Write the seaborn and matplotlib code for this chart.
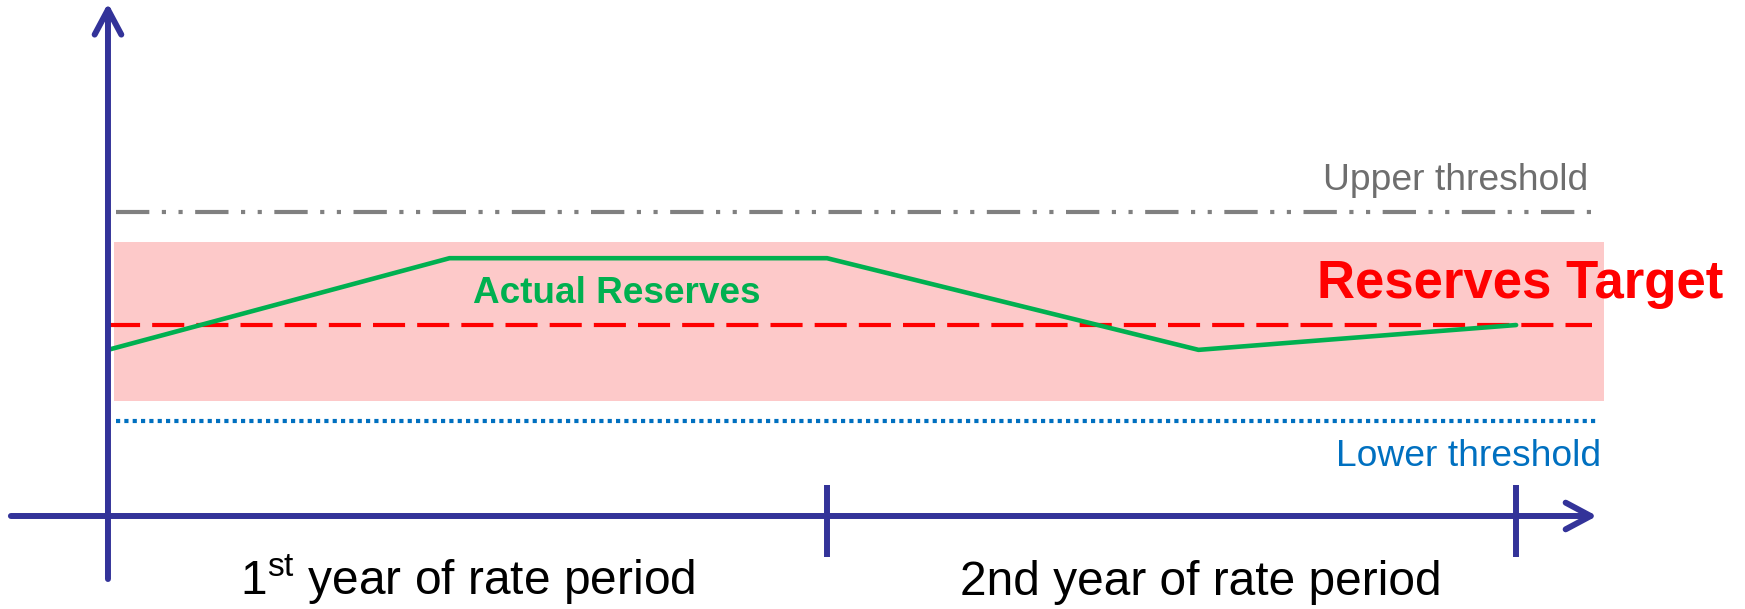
import matplotlib
matplotlib.use("Agg")
import matplotlib.pyplot as plt
import seaborn as sns
import pandas as pd

# ---- data (schematic units: x in months, y in reserve index, target = 100) ----
months = [0, 5.7, 12, 18.2, 23.5]
actual_reserves = [87, 135, 135, 87, 100]
upper_threshold = 159
reserves_target = 100
lower_threshold = 50
target_band = [60, 143.5]
year_ends = [12, 23.5]
period_labels = [r"1$^{\rm st}$ year of rate period", "2nd year of rate period"]
period_centers = [6.0, 18.24]

sns.set_theme(style="white")
plt.rcParams["font.family"] = ["Liberation Sans", "DejaVu Sans"]
plt.rcParams["mathtext.fontset"] = "custom"
plt.rcParams["mathtext.rm"] = "Liberation Sans"
plt.rcParams["mathtext.it"] = "Liberation Sans:italic"
plt.rcParams["mathtext.bf"] = "Liberation Sans:bold"

fig = plt.figure(figsize=(17.45, 6.09), dpi=100)
ax = fig.add_axes([0, 0, 1, 1])
ax.set_xlim(-1.802, 27.32)
ax.set_ylim(-48.7, 270.2)
ax.axis("off")

AXC = "#333399"

# target band
ax.fill_between([0.1, 24.97], target_band[0], target_band[1], color="#FDC9C9", lw=0, zorder=1)

# thresholds
ax.plot([0.13, 24.77], [upper_threshold] * 2, color="#808080", lw=3.0,
        linestyle=(0, (8, 3, 1, 3, 1, 3)), dash_capstyle="butt", zorder=2)
ax.plot([0.0, 24.77], [reserves_target] * 2, color="#FF0000", lw=3.0,
        linestyle=(0, (7.7, 2.9)), dash_capstyle="butt", zorder=2)
ax.plot([0.13, 24.88], [lower_threshold] * 2, color="#0070C0", lw=3.0,
        linestyle=(0, (1, 1)), dash_capstyle="butt", zorder=2)

# actual reserves
df = pd.DataFrame({"month": months, "reserves": actual_reserves})
sns.lineplot(data=df, x="month", y="reserves", ax=ax, color="#00B050", lw=3.3,
             sort=False, zorder=4)

# axes arrows
arrow_kw = dict(arrowstyle="->, head_length=0.9, head_width=0.48", color=AXC, lw=4.3,
                mutation_scale=20, capstyle="round", shrinkA=0, shrinkB=0)
ax.annotate("", xy=(24.85, 0), xytext=(-1.62, 0), arrowprops=arrow_kw, zorder=5)
ax.annotate("", xy=(0, 268.5), xytext=(0, -33), arrowprops=arrow_kw, zorder=5)
for xe in year_ends:
    ax.plot([xe, xe], [16.2, -21.5], color=AXC, lw=4.3, solid_capstyle="butt", zorder=5)

# labels
ax.text(24.7, 170.7, "Upper threshold", ha="right", va="baseline", fontsize=26.8, color="#6E6E6E")
ax.text(24.92, 26.2, "Lower threshold", ha="right", va="baseline", fontsize=26.8, color="#0070C0")
ax.text(26.95, 114.1, "Reserves Target", ha="right", va="baseline", fontsize=38,
        fontweight="bold", color="#FF0000", zorder=6)
ax.text(6.09, 111.5, "Actual Reserves", ha="left", va="baseline", fontsize=26.6,
        fontweight="bold", color="#00B050", zorder=6)
for lab, xc in zip(period_labels, period_centers):
    ax.text(xc, -41.4, lab, ha="center", va="baseline", fontsize=34.5, color="black")

fig.savefig("out.png", dpi=100, facecolor="white")
